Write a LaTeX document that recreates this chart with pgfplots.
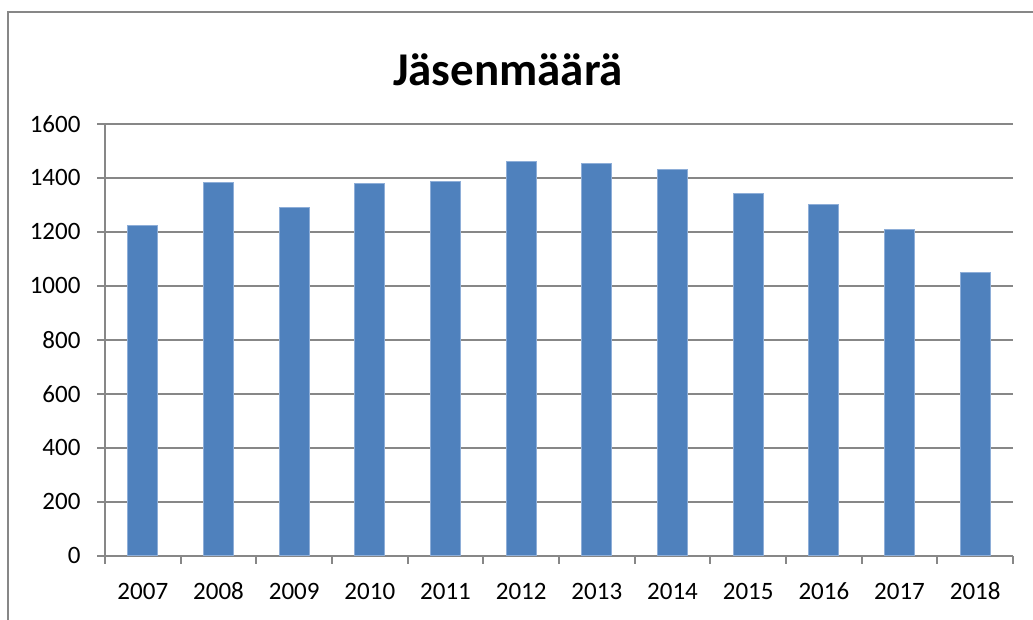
\documentclass[border=0pt]{standalone}
\usepackage{pgfplots}
\pgfplotsset{compat=1.18}
\usepackage{fontspec}
\setmainfont{Carlito}
\definecolor{barblue}{HTML}{4F81BD}
\definecolor{baredge}{HTML}{8EAED8}
\definecolor{gridgray}{HTML}{878787}
\begin{document}
\begin{tikzpicture}[x=1pt,y=1pt]
\useasboundingbox (0,0) rectangle (1033,-619);
\draw[gridgray, line width=2pt] (8,-630) -- (8,-11.5) -- (1045,-11.5);
\node[font=\bfseries\fontsize{47}{56}\selectfont, anchor=base, inner sep=0pt] at (508,-85) {Jäsenmäärä};
\begin{axis}[
  at={(105pt,-555.7pt)}, anchor=south west,
  scale only axis, width=908pt, height=432pt,
  xmin=-0.5, xmax=11.5, ymin=0, ymax=1600,
  ytick={0,200,...,1600},
  xtick={-0.5,0.5,...,11.5},
  x tick label as interval,
  xticklabels={2007,2008,2009,2010,2011,2012,2013,2014,2015,2016,2017,2018},
  axis lines=left, axis line style={-, draw=gridgray, line width=2pt},
  tick align=outside, major tick length=8pt,
  tick style={draw=gridgray, line width=2pt},
  ymajorgrids, grid style={draw=gridgray, line width=2pt},
  tick label style={font=\fontsize{25}{30}\selectfont, text=black},
  xticklabel style={anchor=base, yshift=-36pt, text height=16pt, text depth=0pt},
  yticklabel style={anchor=east, xshift=-13pt},
  /pgf/number format/1000 sep={},
  /pgf/number format/assume math mode=true,
  ybar, bar width=30pt,
  clip=false,
]
\addplot[fill=barblue, draw=baredge, line width=1pt] coordinates {
(0,1223) (1,1383) (2,1289) (3,1380) (4,1386) (5,1459)
(6,1452) (7,1431) (8,1341) (9,1299) (10,1207) (11,1049)
};
\end{axis}
\end{tikzpicture}
\end{document}
